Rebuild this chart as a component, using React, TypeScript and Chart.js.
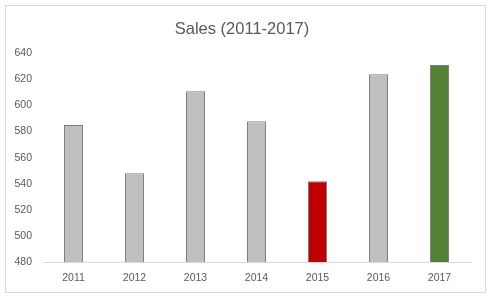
import React, { useEffect, useRef } from "react";
import { Chart, registerables } from "chart.js";

Chart.register(...registerables);

const categories = ["2011", "2012", "2013", "2014", "2015", "2016", "2017"];
const sales = [585, 548, 611, 588, 542, 624, 631];
const barColors = ["#bfbfbf", "#bfbfbf", "#bfbfbf", "#bfbfbf", "#c00000", "#bfbfbf", "#548235"];
const yMin = 480;
const yMax = 640;
const yStep = 20;
const titleText = "Sales (2011-2017)";

const FONT = "'Liberation Sans', Arial, sans-serif";

const borderPlugin = {
  id: "outerBorder",
  afterDraw(chart: any) {
    const ctx = chart.ctx;
    ctx.save();
    ctx.strokeStyle = "#d9d9d9";
    ctx.lineWidth = 1;
    ctx.strokeRect(5.5, 5.5, 480, 287);
    ctx.restore();
  },
};

export default function App() {
  const ref = useRef<HTMLCanvasElement | null>(null);

  useEffect(() => {
    if (!ref.current) return;
    const chart = new Chart(ref.current, {
      type: "bar",
      data: {
        labels: categories,
        datasets: [
          {
            label: "Sales",
            data: sales,
            backgroundColor: barColors,
            borderColor: "#7f7f7f",
            borderWidth: { top: 1, left: 1, right: 1, bottom: 0 },
            borderSkipped: false,
            inflateAmount: 0,
            barThickness: 19,
          },
        ],
      },
      options: {
        animation: false,
        responsive: false,
        devicePixelRatio: 1,
        layout: { padding: { left: 14, right: 20, top: 0, bottom: 12 } },
        plugins: {
          legend: { display: false },
          tooltip: { enabled: false },
          title: {
            display: true,
            text: titleText,
            color: "#595959",
            font: { family: FONT, size: 16.5, weight: "normal" },
            padding: { top: 20, bottom: 13.5 },
          },
        },
        scales: {
          x: {
            grid: { display: false, drawTicks: false },
            border: { display: true, color: "#d9d9d9", width: 1 },
            ticks: {
              color: "#595959",
              font: { family: FONT, size: 10.5 },
              padding: 10,
              maxRotation: 0,
            },
            afterFit: (scale: any) => {
              scale.height = 24;
            },
          },
          y: {
            min: yMin,
            max: yMax,
            grid: { display: false, drawTicks: false },
            border: { display: false },
            ticks: {
              stepSize: yStep,
              color: "#595959",
              font: { family: FONT, size: 10.5 },
              padding: 11,
            },
            afterFit: (scale: any) => {
              scale.width = 29;
            },
          },
        },
      },
      plugins: [borderPlugin],
    });
    return () => chart.destroy();
  }, []);

  return (
    <div style={{ position: "absolute", left: 0, top: 0, width: 490, height: 298, background: "#fff" }}>
      <canvas ref={ref} width={490} height={298} />
    </div>
  );
}
